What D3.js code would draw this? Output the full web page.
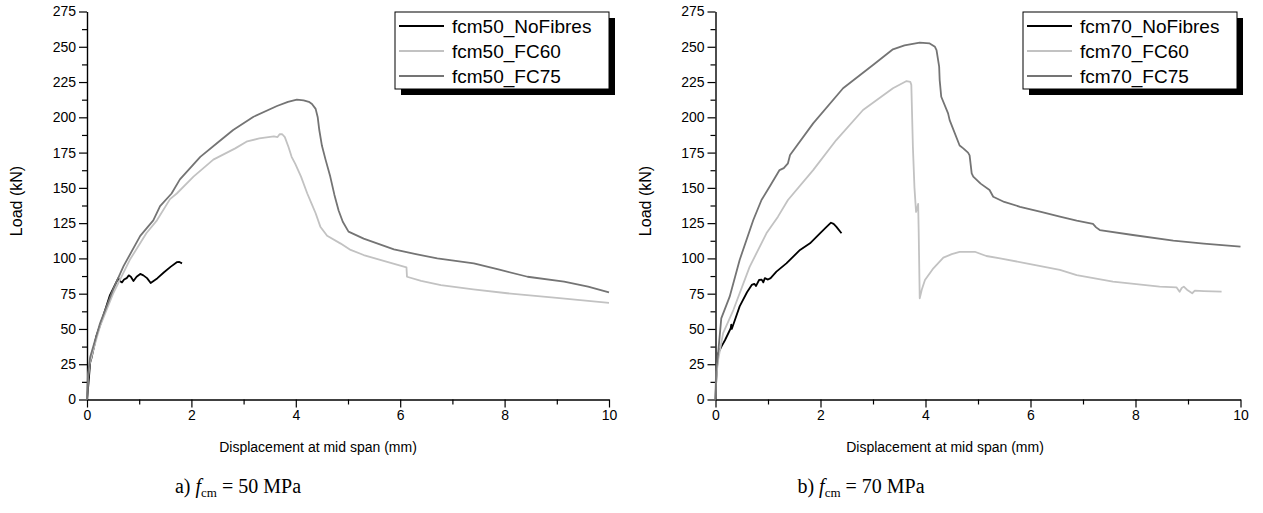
<!DOCTYPE html>
<html>
<head>
<meta charset="utf-8">
<script src="https://cdn.jsdelivr.net/npm/d3@7"></script>
<style>
  html, body { margin: 0; padding: 0; background: #fff; }
  svg { display: block; }
</style>
</head>
<body>
<svg id="chart" width="1263" height="513"></svg>
<script>
// ---------------- DATA ----------------
const xTickValues = [0, 2, 4, 6, 8, 10];
const xMinorValues = [1, 3, 5, 7, 9];
const yTickValues = [0, 25, 50, 75, 100, 125, 150, 175, 200, 225, 250, 275];
const yMinorValues = [12.5, 37.5, 62.5, 87.5, 112.5, 137.5, 162.5, 187.5, 212.5, 237.5, 262.5];

const seriesNames50 = ["fcm50_NoFibres", "fcm50_FC60", "fcm50_FC75"];
const seriesNames70 = ["fcm70_NoFibres", "fcm70_FC60", "fcm70_FC75"];
const captions = [["a) ", "50"], ["b) ", "70"]];

const fcm50_NoFibres = [[0,0],[0.03,12],[0.06,26],[0.09,30],[0.18,45],[0.30,58],[0.44,74],[0.52,80],[0.60,86],[0.63,84],[0.67,83],[0.71,85],[0.76,86],[0.80,88],[0.84,87],[0.89,84],[0.95,87],[1.02,89],[1.08,88],[1.15,86],[1.22,82.6],[1.35,86],[1.47,90],[1.60,94],[1.72,97.3],[1.77,97.5],[1.82,96.5]];
const fcm50_FC60 = [[0,0],[0.02,15],[0.05,25],[0.12,35],[0.25,52],[0.5,75],[0.82,99],[1.14,118],[1.34,127],[1.59,142],[1.72,146],[2.04,158],[2.42,170],[2.84,178],[3.07,183],[3.3,185],[3.58,186.5],[3.65,186],[3.69,188],[3.74,188],[3.79,186],[3.86,179],[3.92,172],[3.99,167],[4.1,158],[4.22,146],[4.3,139],[4.38,132],[4.47,122.5],[4.6,116],[4.86,110.5],[5.05,106],[5.30,102.4],[5.7,98],[6.12,93.7],[6.13,87],[6.4,84],[6.78,81],[7.4,78],[8.05,75.3],[9,72],[10,68.5]];
const fcm50_FC75 = [[0,0],[0.02,18],[0.06,30],[0.25,54],[0.5,78],[0.7,94.5],[1.02,116],[1.27,127],[1.40,137],[1.62,146],[1.78,156],[2.17,172],[2.5,182],[2.80,191],[3.19,200.4],[3.64,208],[3.85,211],[4.02,212.5],[4.15,212],[4.25,211],[4.31,209.5],[4.38,206],[4.42,200],[4.45,191],[4.5,180],[4.57,170],[4.66,158],[4.74,145],[4.82,134],[4.9,126],[5.01,119],[5.3,114],[5.88,106.4],[6.3,103],[6.71,100],[7.41,96.5],[7.9,92],[8.44,87],[9.14,83.5],[9.6,80],[10,76]];

const fcm70_NoFibres = [[0,0],[0.01,10],[0.02,18.6],[0.05,32.7],[0.12,38],[0.18,42],[0.29,50.5],[0.30,53],[0.31,50],[0.46,66],[0.6,76],[0.69,81.2],[0.74,82],[0.77,80.4],[0.83,84.7],[0.88,85],[0.91,83],[0.94,86],[1.0,85],[1.05,86],[1.16,90.6],[1.35,96.5],[1.61,106],[1.80,110.7],[1.99,117.8],[2.12,122.5],[2.20,125.3],[2.25,124.5],[2.30,122.5],[2.40,117.8]];
const fcm70_FC60 = [[0,0],[0.01,15],[0.05,28],[0.145,47],[0.34,63.4],[0.65,94],[0.97,117.8],[1.19,129.6],[1.38,141.4],[1.86,162.6],[2.30,183.9],[2.81,205.2],[3.38,220.6],[3.64,225.7],[3.71,225.2],[3.73,223],[3.76,179],[3.79,150],[3.82,133],[3.84,135],[3.86,138.6],[3.87,120],[3.89,71.7],[3.93,78],[3.99,84.7],[4.15,93],[4.34,100.5],[4.5,103],[4.65,104.7],[4.94,104.7],[5.16,101.7],[5.42,100],[5.92,96.5],[6.56,91.8],[6.88,88.2],[7.57,83.5],[8.46,80],[8.78,79.5],[8.84,76.4],[8.88,79],[8.92,80],[8.98,77.8],[9.08,75.3],[9.13,77.1],[9.3,76.8],[9.64,76.4]];
const fcm70_FC75 = [[0,0],[0.01,20],[0.05,32.7],[0.11,57.5],[0.27,72.9],[0.46,98.9],[0.72,127.2],[0.876,141.4],[1.05,152],[1.22,162.6],[1.30,164],[1.38,167.4],[1.42,173.3],[1.86,195.7],[2.43,220.6],[3.0,237.1],[3.38,248.2],[3.6,251],[3.89,252.9],[4.08,252.4],[4.18,250],[4.21,247.7],[4.26,236],[4.27,226.4],[4.30,214.6],[4.43,202.8],[4.46,198],[4.65,180],[4.72,178],[4.81,175],[4.84,173],[4.88,160.3],[4.91,158],[5.05,153],[5.22,148.5],[5.29,143.7],[5.5,140],[5.80,136.6],[6.2,133],[6.56,129.6],[6.88,126.7],[7.19,124.4],[7.25,122],[7.32,120.1],[7.95,116.6],[8.72,112.6],[9.3,110.5],[10,108.3]];

// ---------------- STYLE / LAYOUT ----------------
const colors = ["#000000", "#c2c2c2", "#747474"];
const sans = "'Liberation Sans', Arial, sans-serif";
const serif = "'Liberation Serif', 'Times New Roman', serif";
const panels = [
  { x0: 87, x1: 609, names: seriesNames50, data: [fcm50_NoFibres, fcm50_FC60, fcm50_FC75], cap: captions[0], legendX: 395, titleX: 318, capX: 238 },
  { x0: 715.5, x1: 1240.5, names: seriesNames70, data: [fcm70_NoFibres, fcm70_FC60, fcm70_FC75], cap: captions[1], legendX: 1023, titleX: 945, capX: 861 }
];
const yTop = 11.5, yBot = 399.5;

const svg = d3.select("#chart");

panels.forEach(p => {
  const x = d3.scaleLinear().domain([0, 10]).range([p.x0, p.x1]);
  const y = d3.scaleLinear().domain([0, 275]).range([yBot, yTop]);
  const g = svg.append("g");

  // minor ticks
  g.append("g").attr("transform", `translate(0,${yBot})`)
    .call(d3.axisBottom(x).tickValues(xMinorValues).tickSize(5).tickSizeOuter(0).tickFormat(""))
    .call(a => a.select(".domain").remove());
  g.append("g").attr("transform", `translate(${p.x0},0)`)
    .call(d3.axisLeft(y).tickValues(yMinorValues).tickSize(5).tickSizeOuter(0).tickFormat(""))
    .call(a => a.select(".domain").remove());

  // major axes
  g.append("g").attr("transform", `translate(0,${yBot})`)
    .call(d3.axisBottom(x).tickValues(xTickValues).tickSize(8).tickSizeOuter(0).tickPadding(3).tickFormat(d3.format("d")));
  g.append("g").attr("transform", `translate(${p.x0},0)`)
    .call(d3.axisLeft(y).tickValues(yTickValues).tickSize(8).tickSizeOuter(0).tickPadding(3).tickFormat(d3.format("d")));
  g.selectAll(".tick text").attr("font-family", sans).attr("font-size", 14).attr("fill", "#000");
  g.selectAll(".tick line").attr("stroke", "#000").attr("stroke-width", 1.2);
  g.selectAll(".domain").attr("stroke", "#000").attr("stroke-width", 1.4);

  // axis titles
  g.append("text")
    .attr("x", p.titleX).attr("y", 452)
    .attr("text-anchor", "middle")
    .attr("font-family", sans).attr("font-size", 14)
    .text("Displacement at mid span (mm)");
  g.append("text")
    .attr("transform", `translate(${p.x0 - 65},${201}) rotate(-90)`)
    .attr("text-anchor", "middle")
    .attr("font-family", sans).attr("font-size", 16)
    .text("Load (kN)");

  // curves
  const line = d3.line().x(d => x(d[0])).y(d => y(d[1]));
  p.data.forEach((s, i) => {
    g.append("path").datum(s)
      .attr("d", line)
      .attr("fill", "none")
      .attr("stroke", colors[i])
      .attr("stroke-width", 1.8)
      .attr("stroke-linejoin", "round");
  });

  // legend
  const lx = p.legendX, ly = 12, lw = 214, lh = 77;
  g.append("rect").attr("x", lx + 6).attr("y", ly + 6).attr("width", lw).attr("height", lh).attr("fill", "#000");
  g.append("rect").attr("x", lx).attr("y", ly).attr("width", lw).attr("height", lh)
    .attr("fill", "#fff").attr("stroke", "#000").attr("stroke-width", 1);
  p.names.forEach((n, i) => {
    const cy = ly + 14 + i * 25;
    g.append("line").attr("x1", lx + 4).attr("x2", lx + 49).attr("y1", cy).attr("y2", cy)
      .attr("stroke", colors[i]).attr("stroke-width", 1.8);
    g.append("text").attr("x", lx + 57).attr("y", cy + 7)
      .attr("font-family", sans).attr("font-size", 19)
      .text(n);
  });

  // caption
  const cap = g.append("text")
    .attr("x", p.capX).attr("y", 493)
    .attr("text-anchor", "middle")
    .attr("font-family", serif).attr("font-size", 20);
  cap.append("tspan").text(p.cap[0]);
  cap.append("tspan").attr("font-style", "italic").text("f");
  cap.append("tspan").attr("font-size", 13).attr("dy", 4).text("cm");
  cap.append("tspan").attr("dy", -4).text(" = " + p.cap[1] + " MPa");
});
</script>
</body>
</html>
